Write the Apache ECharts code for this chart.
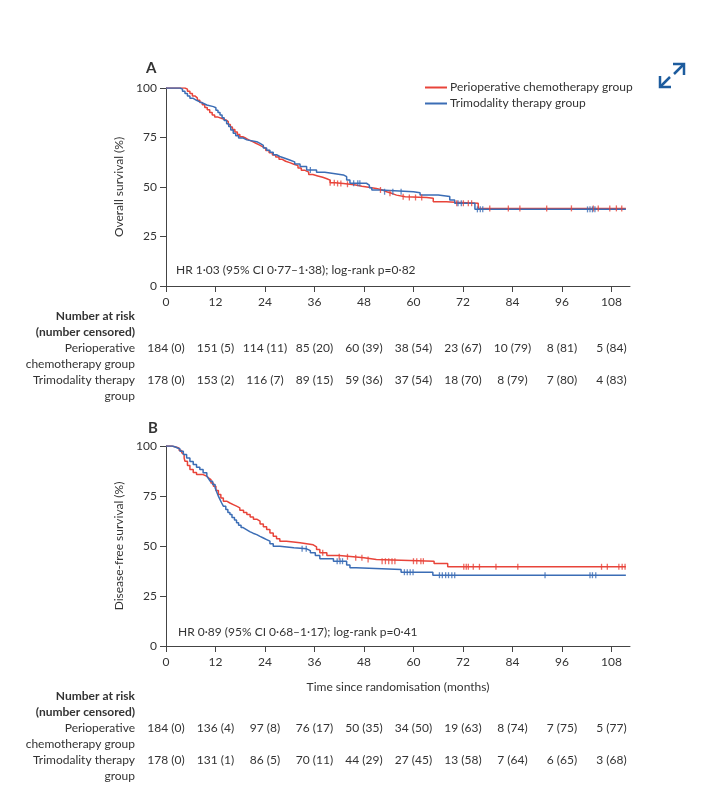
<!DOCTYPE html>
<html><head><meta charset="utf-8">
<script src="https://cdn.jsdelivr.net/npm/echarts@6/dist/echarts.min.js"></script>
<style>html,body{margin:0;padding:0;background:#fff}#c{width:705px;height:800px}</style>
</head><body><div id="c"></div><script>
// ---------- DATA ----------
const xTicks = [0, 12, 24, 36, 48, 60, 72, 84, 96, 108];
const yTicks = [0, 25, 50, 75, 100];
const groupNames = ['Perioperative chemotherapy group', 'Trimodality therapy group'];

// Overall survival (months, %)
const osPeri = [[0,100],[4.6,99.4],[5.2,98.3],[5.8,97.2],[6.4,96],[7.0,95],[7.6,93.8],[8.2,92.7],[8.8,91.5],[9.4,90.2],[10.0,89],[10.6,87.6],[11.2,86.4],[11.8,85.3],[12.6,84.6],[13.6,83.8],[14.6,83],[15.1,81.6],[15.6,80.3],[16.1,79],[16.7,77.8],[17.3,76.5],[17.9,75.4],[18.6,74.6],[19.4,73.7],[20.2,72.9],[21.0,72.1],[21.8,71.3],[22.6,70.4],[23.4,69.5],[24.2,68.4],[25.0,67.3],[25.8,66.2],[26.6,65.1],[27.4,64],[28.2,63],[29.0,62.3],[30.0,61.5],[31.0,60.8],[32.0,59.6],[32.8,58.5],[33.6,57.5],[34.6,56.3],[35.6,55.6],[36.8,54.9],[38.0,54.2],[39.0,53.5],[39.8,52.2],[41.0,51.8],[43.0,51.4],[44.6,51],[46.0,50.4],[47.5,49.8],[49.5,49.3],[51.0,48.5],[52.5,47.6],[53.5,46.8],[54.7,45.9],[55.9,45.1],[58,44.7],[63.2,44.3],[64.8,42.6],[68,42.3],[70,41.8],[75.7,39.2],[111.5,39.2]];
const osTri = [[0,100],[3.4,99.4],[4.0,98.3],[4.6,97.2],[5.2,95.9],[5.8,94.8],[6.6,93.8],[7.4,93],[8.2,92.3],[9.0,91.4],[9.9,90.6],[11.5,90.0],[12.1,88.8],[12.6,87.6],[13.1,86.4],[13.6,85],[14.1,83.6],[14.7,82],[15.2,80.5],[15.7,78.8],[16.3,77.1],[16.9,75.9],[17.6,74.8],[18.6,73.8],[19.6,72.9],[22.0,72],[22.8,71],[23.6,69.7],[24.4,68.6],[25.2,67.5],[26.0,66.3],[26.8,65.4],[27.6,64.5],[28.8,63.6],[30.0,62.7],[31.2,61.6],[32.5,60.3],[34.1,58.6],[36.5,57.4],[38.5,56.8],[40.6,56.1],[43.0,55.2],[43.8,53.5],[44.6,51.9],[48.6,51],[49.3,49.6],[49.9,48.5],[51.9,47.6],[60,47.1],[61.6,46],[66,45.2],[68.8,43.4],[70.0,41.8],[74.9,38.7],[111.5,38.7]];
const osPeriCens = [39.8,40.8,41.6,42.4,44,52,54.3,57.5,59,60.5,62,70.5,72.1,73.3,74.1,78.5,83,85.8,92.3,98.3,103.6,104.8,107.6,109.2,110.5];
const osTriCens = [35,45.5,46.5,47,53,55,57,70.8,71.6,75.5,76.2,76.8,102.2,102.8,103.4,104];

// Disease-free survival (months, %)
const dfsPeri = [[0,100],[1.4,99.4],[2.6,98.9],[3.2,97.8],[3.8,96.7],[4.2,95.7],[4.4,94],[4.6,92.4],[5.2,90.3],[5.8,88.2],[6.6,86.8],[7.4,85.7],[9.0,85],[9.8,84.1],[10.3,83.2],[10.9,81.5],[11.5,79.9],[12.1,77.8],[12.7,75.7],[13.3,74],[13.9,72.4],[14.7,71.5],[15.5,70.7],[16.3,69.9],[17.1,69.1],[17.9,67.9],[18.8,66.8],[19.6,65.7],[20.4,64.5],[21.2,63.4],[22.0,62.4],[22.8,61],[23.6,59.6],[24.4,58.2],[25.2,56.5],[26.0,54.9],[26.8,53.6],[27.6,52.4],[29.2,52],[30.9,51.6],[32.5,50.6],[35.7,49.6],[36.5,48.2],[37.3,46.6],[39.0,45.2],[42,44.6],[45.4,44.1],[48,43.3],[51.0,42.4],[65.0,41.2],[68.3,39.6],[111.5,39.6]];
const dfsTri = [[0,100],[1.6,99.4],[2.4,98.5],[3.4,97.4],[4.2,95.7],[5.0,94],[5.8,92.3],[6.6,90.7],[7.4,89.4],[8.2,88.2],[9.0,86.6],[9.9,85],[10.3,83.7],[10.7,82.4],[11.3,80.7],[11.9,79.1],[12.3,77],[12.7,74.9],[13.1,73.2],[13.5,71.5],[13.9,69.9],[14.5,68.2],[15.0,66.8],[15.5,65.7],[16.0,64.3],[16.6,63],[17.1,61.6],[17.6,60.4],[18.2,59.2],[18.7,58.2],[19.5,57.2],[20.3,56.4],[21.1,55.7],[22.0,54.8],[22.8,54],[23.6,53.2],[24.4,52.4],[25.2,51.1],[26.0,49.9],[27.6,49.1],[31,48.6],[34.1,47.7],[35.0,46.6],[36.2,45.2],[37.3,43.6],[40.6,42.4],[43.8,40.5],[44.6,39.1],[46.1,38.2],[57,36.9],[64.7,35.4],[111.5,35.4]];
const dfsPeriCens = [38,42,44,46,47.5,49,52.4,53.2,54,54.8,55.5,60,60.8,61.8,62.4,72.2,72.8,73.3,74.5,76,80,85.3,105.6,107,109.8,110.6,111.3];
const dfsTriCens = [33,34,41.5,42.2,42.8,57.8,58.5,59.2,59.9,66.3,67,67.8,68.5,69.3,70,91.9,102.8,103.4,104.2];

// Number at risk (number censored)
const osPeriRisk = [184,151,114,85,60,38,23,10,8,5];
const osPeriCensN = [0,5,11,20,39,54,67,79,81,84];
const osTriRisk = [178,153,116,89,59,37,18,8,7,4];
const osTriCensN = [0,2,7,15,36,54,70,79,80,83];
const dfsPeriRisk = [184,136,97,76,50,34,19,8,7,5];
const dfsPeriCensN = [0,4,8,17,35,50,63,74,75,77];
const dfsTriRisk = [178,131,86,70,44,27,13,7,6,3];
const dfsTriCensN = [0,1,5,11,29,45,58,64,65,68];

const hrA = 'HR 1·03 (95% CI 0·77–1·38); log-rank p=0·82';
const hrB = 'HR 0·89 (95% CI 0·68–1·17); log-rank p=0·41';

// ---------- STYLE ----------
const FONT = "Lato, 'DejaVu Sans Condensed', sans-serif";
const RED = '#e8443a', BLUE = '#3b6db5', TXT = '#333333', AX = '#444444';

function stepAt(curve, t) { let v = curve[0][1]; for (const p of curve) { if (p[0] <= t) v = p[1]; else break; } return v; }
function censData(curve, ts) { return ts.map(t => [t, stepAt(curve, t)]); }

const chart = echarts.init(document.getElementById('c'), null, {renderer: 'canvas'});

function xAxisCfg(idx, name) {
  return {
    type: 'value', gridIndex: idx, min: 0, max: 112.5, interval: 12,
    name: name || '', nameLocation: 'middle', nameGap: 35,
    nameTextStyle: {fontFamily: FONT, fontSize: 12, color: TXT},
    axisLine: {show: true, lineStyle: {color: AX, width: 1}},
    axisTick: {show: true, length: 6, customValues: xTicks, lineStyle: {color: AX}},
    axisLabel: {customValues: xTicks, margin: 10, fontFamily: FONT, fontSize: 12, color: TXT},
    splitLine: {show: false}
  };
}
function yAxisCfg(idx, name) {
  return {
    type: 'value', gridIndex: idx, min: 0, max: 100, interval: 25,
    name: name, nameLocation: 'middle', nameGap: 40, nameRotate: 90,
    nameTextStyle: {fontFamily: FONT, fontSize: 12, color: TXT},
    axisLine: {show: true, lineStyle: {color: AX, width: 1}},
    axisTick: {show: true, length: 6, lineStyle: {color: AX}},
    axisLabel: {margin: 9, fontFamily: FONT, fontSize: 12, color: TXT},
    splitLine: {show: false}
  };
}
function lineSeries(name, data, color, idx) {
  return {name, type: 'line', step: 'end', data, xAxisIndex: idx, yAxisIndex: idx,
    showSymbol: false, symbol: 'none', lineStyle: {color, width: 1.5}, itemStyle: {color},
    animation: false, z: 3};
}
function censSeries(curve, ts, color, idx) {
  return {type: 'scatter', data: censData(curve, ts), xAxisIndex: idx, yAxisIndex: idx,
    symbol: 'rect', symbolSize: [1.3, 6], itemStyle: {color}, animation: false, z: 4, silent: true};
}

chart.setOption({
  animation: false,
  textStyle: {fontFamily: FONT},
  grid: [
    {left: 166, top: 88, width: 464, height: 198},
    {left: 166, top: 446, width: 464, height: 200}
  ],
  xAxis: [xAxisCfg(0), xAxisCfg(1, 'Time since randomisation (months)')],
  yAxis: [yAxisCfg(0, 'Overall survival (%)'), yAxisCfg(1, 'Disease-free survival (%)')],
  legend: {
    orient: 'vertical', left: 425, top: 81, padding: 0, itemWidth: 22, itemHeight: 2, itemGap: 3,
    icon: 'rect', data: groupNames,
    textStyle: {fontFamily: FONT, fontSize: 12, color: TXT, lineHeight: 13, padding: [0,0,0,-2]}
  },
  series: [
    lineSeries(groupNames[0], osPeri, RED, 0),
    lineSeries(groupNames[1], osTri, BLUE, 0),
    censSeries(osPeri, osPeriCens, RED, 0),
    censSeries(osTri, osTriCens, BLUE, 0),
    lineSeries(groupNames[0], dfsPeri, RED, 1),
    lineSeries(groupNames[1], dfsTri, BLUE, 1),
    censSeries(dfsPeri, dfsPeriCens, RED, 1),
    censSeries(dfsTri, dfsTriCens, BLUE, 1)
  ]
});

// ---------- Text annotations & number-at-risk tables ----------
const g = [];
function txt(x, y, s, opt) {
  g.push({type: 'text', x, y, silent: true, style: Object.assign({text: s, fill: TXT, font: '12px ' + FONT, textAlign: 'left', textVerticalAlign: 'middle'}, opt || {})});
}
txt(146, 68, 'A', {font: 'bold 15px ' + FONT});
txt(148, 428, 'B', {font: 'bold 15px ' + FONT});
txt(176, 270, hrA);
txt(178, 632, hrB);

function table(axisIdx, y0, periRisk, periCens, triRisk, triCens) {
  const R = 135;
  txt(R, y0, 'Number at risk', {textAlign: 'right', font: 'bold 12px ' + FONT});
  txt(R, y0 + 16, '(number censored)', {textAlign: 'right', font: 'bold 12px ' + FONT});
  txt(R, y0 + 32, 'Perioperative', {textAlign: 'right'});
  txt(R, y0 + 48, 'chemotherapy group', {textAlign: 'right'});
  txt(R, y0 + 64, 'Trimodality therapy', {textAlign: 'right'});
  txt(R, y0 + 80, 'group', {textAlign: 'right'});
  xTicks.forEach((t, i) => {
    const px = chart.convertToPixel({xAxisIndex: axisIdx}, t);
    txt(px, y0 + 32, periRisk[i] + ' (' + periCens[i] + ')', {textAlign: 'center'});
    txt(px, y0 + 64, triRisk[i] + ' (' + triCens[i] + ')', {textAlign: 'center'});
  });
}
table(0, 316, osPeriRisk, osPeriCensN, osTriRisk, osTriCensN);
table(1, 696, dfsPeriRisk, dfsPeriCensN, dfsTriRisk, dfsTriCensN);

// expand icon (decorative)
const IC = '#1d5c9e';
g.push({type: 'polyline', silent: true, shape: {points: [[673,64],[684,64],[684,75]]}, style: {stroke: IC, lineWidth: 2.5, fill: null}});
g.push({type: 'line', silent: true, shape: {x1: 683, y1: 65, x2: 674, y2: 74}, style: {stroke: IC, lineWidth: 2.5}});
g.push({type: 'polyline', silent: true, shape: {points: [[660,76],[660,87],[671,87]]}, style: {stroke: IC, lineWidth: 2.5, fill: null}});
g.push({type: 'line', silent: true, shape: {x1: 661, y1: 86, x2: 670, y2: 77}, style: {stroke: IC, lineWidth: 2.5}});

chart.setOption({graphic: g});
</script></body></html>
